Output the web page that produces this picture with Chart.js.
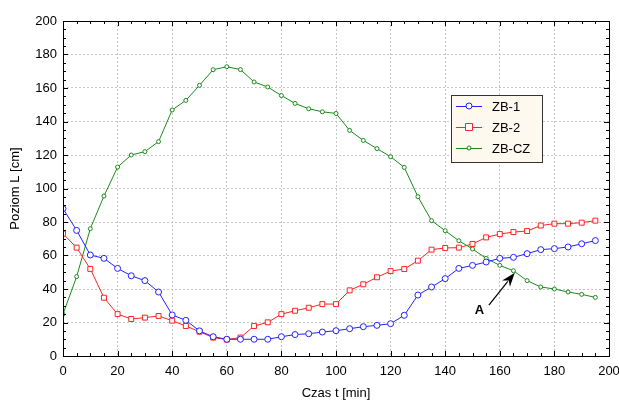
<!DOCTYPE html>
<html>
<head>
<meta charset="utf-8">
<script src="https://cdn.jsdelivr.net/npm/chart.js@4.4.1/dist/chart.umd.min.js"></script>
<style>
  html, body { margin: 0; padding: 0; background: #fff; }
  #wrap { width: 619px; height: 401px; }
</style>
</head>
<body>
<div id="wrap"><canvas id="c" width="619" height="401"></canvas></div>
<script>
// czas pomiaru [min]
const czas = [0, 5, 10, 15, 20, 25, 30, 35, 40, 45, 50, 55, 60, 65, 70, 75, 80, 85, 90, 95,
              100, 105, 110, 115, 120, 125, 130, 135, 140, 145, 150, 155, 160, 165, 170, 175, 180, 185, 190, 195];

const zb1 = [88, 75, 60.3, 58.3, 52.3, 47.9, 45, 38.2, 24.5, 21.3,
             15, 11.5, 10, 10, 10, 10, 11.5, 12.8, 13.3, 14.3,
             15.1, 16.3, 17.5, 18.3, 19.3, 24.3, 36.4, 41.2, 46.2, 52.3,
             54.1, 56.1, 58.3, 58.9, 61.1, 63.5, 64.1, 65.1, 67, 68.9];

const zb2 = [73, 64.7, 52, 34.8, 25, 22.1, 22.9, 23.9, 21.1, 17.9,
             14.5, 11, 9.8, 11, 17.9, 20.1, 25, 27, 28.8, 31,
             31, 39.2, 42.8, 47, 50.7, 51.9, 56.9, 63.5, 64.5, 64.7,
             66.9, 70.8, 72.8, 74, 74.6, 77.9, 79, 79, 79.6, 80.8];

const zbcz = [25, 47.4, 76, 95.5, 112.8, 120, 122, 128, 146.9, 152.6,
              161.6, 170.9, 172.7, 171, 163.6, 160.6, 155.5, 150.8, 147.6, 145.8,
              144.8, 134.7, 128.7, 123.8, 119, 112.6, 95.1, 80.8, 74.8, 68.8,
              63.9, 58.3, 54.1, 50.9, 45, 41.2, 40, 38.2, 36.8, 35];

const xTicks = [0, 20, 40, 60, 80, 100, 120, 140, 160, 180, 200];
const yTicks = [0, 20, 40, 60, 80, 100, 120, 140, 160, 180, 200];

// strzałka "A": ogon -> grot (współrzędne danych)
const arrowFrom = [156, 30.4];
const arrowTo = [165.5, 49.7];
const arrowLabelAt = [152.5, 27.5];

const FONT = "'Liberation Sans', Arial, sans-serif";

function pts(ys) {
    return ys.map((y, i) => ({ x: czas[i], y: y }));
}

// ramka z podziałką do wewnątrz na wszystkich bokach
const framePlugin = {
    id: "frame",
    afterDatasetsDraw(chart) {
        const { ctx, chartArea: a, scales } = chart;
        const xs = scales.x, ys = scales.y;
        ctx.save();
        ctx.strokeStyle = "#000";
        ctx.lineWidth = 1;
        ctx.strokeRect(Math.round(a.left) + 0.5, Math.round(a.top) + 0.5,
                       Math.round(a.right - a.left), Math.round(a.bottom - a.top));
        ctx.beginPath();
        for (let v = 0; v <= 200; v += 5) {
            const len = v % 20 === 0 ? 5 : 3;
            const px = Math.round(xs.getPixelForValue(v)) + 0.5;
            ctx.moveTo(px, a.bottom); ctx.lineTo(px, a.bottom - len);
            ctx.moveTo(px, a.top); ctx.lineTo(px, a.top + len);
            const py = Math.round(ys.getPixelForValue(v)) + 0.5;
            ctx.moveTo(a.left, py); ctx.lineTo(a.left + len, py);
            ctx.moveTo(a.right, py); ctx.lineTo(a.right - len, py);
        }
        ctx.stroke();
        ctx.restore();
    }
};

// legenda w obszarze wykresu
const legendPlugin = {
    id: "boxLegend",
    afterDraw(chart) {
        const { ctx } = chart;
        const x0 = 451, y0 = 95, w = 91, h = 67;
        ctx.save();
        ctx.fillStyle = "#fdf9ee";
        ctx.fillRect(x0, y0, w, h);
        ctx.strokeStyle = "#333";
        ctx.lineWidth = 1;
        ctx.strokeRect(x0 + 0.5, y0 + 0.5, w, h);
        ctx.font = "13px " + FONT;
        ctx.textBaseline = "middle";
        chart.data.datasets.forEach((ds, i) => {
            const cy = y0 + 11 + i * 21;
            ctx.strokeStyle = ds.borderColor;
            ctx.lineWidth = 1;
            ctx.beginPath();
            ctx.moveTo(x0 + 5, cy + 0.5); ctx.lineTo(x0 + 31, cy + 0.5);
            ctx.stroke();
            ctx.fillStyle = "#fff";
            ctx.beginPath();
            if (ds.pointStyle === "rect") {
                const r = ds.pointRadius;
                ctx.rect(x0 + 18 - r, cy - r, 2 * r, 2 * r);
            } else {
                ctx.arc(x0 + 18, cy, ds.pointRadius, 0, Math.PI * 2);
            }
            ctx.fill();
            ctx.stroke();
            ctx.fillStyle = "#000";
            ctx.fillText(ds.label, x0 + 41, cy + 1);
        });
        ctx.restore();
    }
};

// strzałka z opisem "A"
const arrowPlugin = {
    id: "arrowA",
    afterDatasetsDraw(chart) {
        const { ctx, scales } = chart;
        const x1 = scales.x.getPixelForValue(arrowFrom[0]), y1 = scales.y.getPixelForValue(arrowFrom[1]);
        const x2 = scales.x.getPixelForValue(arrowTo[0]), y2 = scales.y.getPixelForValue(arrowTo[1]);
        const ang = Math.atan2(y2 - y1, x2 - x1);
        const hl = 14, hw = 5;
        ctx.save();
        ctx.strokeStyle = "#000";
        ctx.fillStyle = "#000";
        ctx.lineWidth = 1.2;
        ctx.beginPath();
        ctx.moveTo(x1, y1);
        ctx.lineTo(x2 - Math.cos(ang) * hl * 0.8, y2 - Math.sin(ang) * hl * 0.8);
        ctx.stroke();
        ctx.beginPath();
        ctx.moveTo(x2, y2);
        ctx.lineTo(x2 - Math.cos(ang) * hl - Math.sin(ang) * hw, y2 - Math.sin(ang) * hl + Math.cos(ang) * hw);
        ctx.lineTo(x2 - Math.cos(ang) * hl * 0.7, y2 - Math.sin(ang) * hl * 0.7);
        ctx.lineTo(x2 - Math.cos(ang) * hl + Math.sin(ang) * hw, y2 - Math.sin(ang) * hl - Math.cos(ang) * hw);
        ctx.closePath();
        ctx.fill();
        ctx.font = "bold 13px " + FONT;
        ctx.textAlign = "center";
        ctx.textBaseline = "middle";
        ctx.fillText("A", scales.x.getPixelForValue(arrowLabelAt[0]), scales.y.getPixelForValue(arrowLabelAt[1]));
        ctx.restore();
    }
};

const gridOpts = { color: "#c4c4c4", lineWidth: 1, drawTicks: false };

new Chart(document.getElementById("c"), {
    type: "line",
    data: {
        datasets: [
            {
                label: "ZB-1", data: pts(zb1),
                borderColor: "#2222ff", backgroundColor: "#fff",
                borderWidth: 1, pointStyle: "circle", pointRadius: 3, pointBorderWidth: 1,
                tension: 0
            },
            {
                label: "ZB-2", data: pts(zb2),
                borderColor: "#ff2222", backgroundColor: "#fff",
                borderWidth: 1, pointStyle: "rect", pointRadius: 3.5, pointBorderWidth: 1,
                tension: 0
            },
            {
                label: "ZB-CZ", data: pts(zbcz),
                borderColor: "#1a8a1a", backgroundColor: "#fff",
                borderWidth: 1, pointStyle: "circle", pointRadius: 2, pointBorderWidth: 1,
                tension: 0
            }
        ]
    },
    options: {
        responsive: false,
        animation: false,
        layout: { padding: { top: 21, right: 10, left: 0, bottom: 0 } },
        plugins: { legend: { display: false }, tooltip: { enabled: false } },
        scales: {
            x: {
                type: "linear", min: 0, max: 200,
                afterFit: s => { s.height = 45; s.paddingLeft = 0; s.paddingRight = 0; },
                afterBuildTicks: s => { s.ticks = xTicks.map(v => ({ value: v })); },
                grid: gridOpts,
                border: { display: false, dash: [2, 2] },
                ticks: { color: "#000", font: { family: FONT, size: 13 }, padding: 8, maxRotation: 0 },
                title: { display: true, text: "Czas t [min]", color: "#000",
                         font: { family: FONT, size: 13 }, padding: { top: 0, bottom: 0 } }
            },
            y: {
                type: "linear", min: 0, max: 200,
                afterFit: s => { s.width = 63; s.paddingTop = 0; s.paddingBottom = 0; },
                afterBuildTicks: s => { s.ticks = yTicks.map(v => ({ value: v })); },
                grid: gridOpts,
                border: { display: false, dash: [2, 2] },
                ticks: { color: "#000", font: { family: FONT, size: 13 }, padding: 6 },
                title: { display: true, text: "Poziom L [cm]", color: "#000",
                         font: { family: FONT, size: 13 }, padding: { top: 8, bottom: 0 } }
            }
        }
    },
    plugins: [framePlugin, arrowPlugin, legendPlugin]
});
</script>
</body>
</html>
